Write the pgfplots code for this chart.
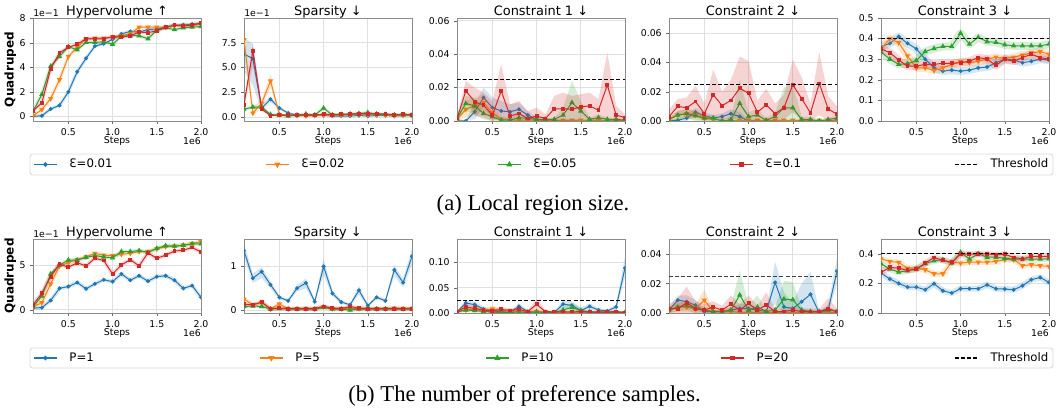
\documentclass[border=0pt]{standalone}
\usepackage{fontspec}
\setmainfont{DejaVu Sans}
\newfontfamily\capfont{Liberation Serif}
\usepackage{pgfplots}
\pgfplotsset{compat=1.18}
\usepackage{pgfplotstable}
\definecolor{cB}{HTML}{1F77B4}
\definecolor{cO}{HTML}{FF7F0E}
\definecolor{cG}{HTML}{2CA02C}
\definecolor{cR}{HTML}{D62728}

% ---------------- data (means) ----------------
\pgfplotstableread{
x b o g r
0.1 0.00 0.05 0.40 0.45
0.2 0.05 0.55 1.80 1.10
0.3 0.60 1.45 4.10 3.90
0.4 0.90 3.00 4.90 5.20
0.5 2.00 4.90 5.70 5.65
0.6 3.65 5.65 5.45 5.90
0.7 4.75 6.35 6.05 6.35
0.8 5.75 6.40 6.05 6.35
0.9 5.95 6.40 6.10 6.35
1.0 6.30 6.50 5.90 6.50
1.1 6.75 6.60 6.55 6.50
1.2 6.95 6.75 6.60 6.60
1.3 6.90 7.30 6.60 6.90
1.4 7.10 7.30 6.35 6.85
1.5 7.15 7.30 7.05 7.00
1.6 7.30 7.30 7.25 7.30
1.7 7.45 7.45 7.10 7.45
1.8 7.50 7.45 7.25 7.40
1.9 7.55 7.45 7.30 7.45
2.0 7.60 7.55 7.35 7.65
}\tAa

\pgfplotstableread{
x b o g r
0.1 6.35 7.80 0.80 1.25
0.2 5.90 0.40 1.00 6.70
0.3 0.90 1.40 1.00 0.80
0.4 1.80 3.65 0.25 0.15
0.5 0.90 0.25 0.20 0.20
0.6 0.40 0.20 0.10 0.20
0.7 0.20 0.15 0.20 0.20
0.8 0.15 0.10 0.30 0.20
0.9 0.15 0.15 0.20 0.20
1.0 0.15 0.20 0.90 0.30
1.1 0.10 0.20 0.20 0.25
1.2 0.10 0.20 0.25 0.30
1.3 0.10 0.25 0.30 0.30
1.4 0.15 0.30 0.35 0.35
1.5 0.10 0.25 0.45 0.35
1.6 0.15 0.25 0.30 0.35
1.7 0.15 0.20 0.25 0.30
1.8 0.10 0.15 0.20 0.25
1.9 0.15 0.20 0.20 0.30
2.0 0.15 0.15 0.20 0.25
}\tAb

\pgfplotstableread{
x b o g r
0.1 0.0000 0.0010 0.0015 0.0015
0.2 0.0000 0.0070 0.0105 0.0180
0.3 0.0055 0.0090 0.0090 0.0115
0.4 0.0140 0.0110 0.0045 0.0095
0.5 0.0080 0.0050 0.0025 0.0035
0.6 0.0060 0.0010 0.0005 0.0180
0.7 0.0055 0.0005 0.0005 0.0030
0.8 0.0070 0.0005 0.0020 0.0045
0.9 0.0035 0.0005 0.0015 0.0015
1.0 0.0010 0.0005 0.0010 0.0030
1.1 0.0000 0.0005 0.0010 0.0015
1.2 0.0000 0.0005 0.0010 0.0073
1.3 0.0000 0.0005 0.0035 0.0073
1.4 0.0000 0.0005 0.0110 0.0070
1.5 0.0000 0.0005 0.0060 0.0085
1.6 0.0000 0.0005 0.0010 0.0090
1.7 0.0000 0.0005 0.0020 0.0065
1.8 0.0000 0.0005 0.0010 0.0215
1.9 0.0000 0.0005 0.0010 0.0035
2.0 0.0000 0.0005 0.0005 0.0020
}\tAc

\pgfplotstableread{
x b o g r
0.1 0.0000 0.0010 0.0010 0.0030
0.2 0.0005 0.0040 0.0040 0.0100
0.3 0.0020 0.0050 0.0050 0.0090
0.4 0.0060 0.0040 0.0035 0.0133
0.5 0.0035 0.0020 0.0020 0.0050
0.6 0.0020 0.0010 0.0020 0.0180
0.7 0.0030 0.0005 0.0000 0.0105
0.8 0.0050 0.0005 0.0010 0.0140
0.9 0.0030 0.0005 0.0120 0.0224
1.0 0.0000 0.0005 0.0030 0.0188
1.1 0.0000 0.0005 0.0040 0.0060
1.2 0.0000 0.0005 0.0005 0.0110
1.3 0.0000 0.0005 0.0030 0.0050
1.4 0.0000 0.0005 0.0090 0.0090
1.5 0.0000 0.0005 0.0090 0.0247
1.6 0.0000 0.0005 0.0010 0.0153
1.7 0.0000 0.0005 0.0010 0.0055
1.8 0.0000 0.0005 0.0000 0.0256
1.9 0.0000 0.0005 0.0010 0.0082
2.0 0.0000 0.0005 0.0020 0.0046
}\tAd

\pgfplotstableread{
x b o g r
0.1 0.360 0.350 0.335 0.350
0.2 0.377 0.400 0.300 0.332
0.3 0.410 0.380 0.275 0.296
0.4 0.377 0.316 0.278 0.266
0.5 0.350 0.258 0.294 0.266
0.6 0.300 0.258 0.337 0.275
0.7 0.258 0.245 0.352 0.275
0.8 0.242 0.258 0.362 0.280
0.9 0.247 0.275 0.362 0.280
1.0 0.242 0.288 0.426 0.283
1.1 0.247 0.283 0.373 0.290
1.2 0.258 0.290 0.406 0.308
1.3 0.262 0.300 0.385 0.300
1.4 0.283 0.310 0.382 0.270
1.5 0.300 0.303 0.370 0.300
1.6 0.296 0.310 0.365 0.290
1.7 0.283 0.320 0.365 0.308
1.8 0.290 0.330 0.365 0.324
1.9 0.300 0.337 0.365 0.308
2.0 0.296 0.324 0.373 0.300
}\tAe

\pgfplotstableread{
x b o g r
0.1 0.20 0.35 0.35 0.55
0.2 0.25 0.80 1.55 1.85
0.3 1.05 2.90 4.00 3.70
0.4 2.40 4.90 5.00 5.10
0.5 2.60 5.25 5.55 4.75
0.6 3.05 5.60 5.55 5.25
0.7 2.35 5.90 5.85 4.90
0.8 2.90 6.30 6.05 5.75
0.9 3.35 6.10 5.90 5.50
1.0 3.15 6.05 5.80 4.00
1.1 4.00 6.20 6.50 5.00
1.2 3.30 6.30 6.50 5.60
1.3 3.80 6.50 6.60 4.90
1.4 3.20 6.50 6.40 6.35
1.5 3.70 6.80 6.85 5.75
1.6 3.80 7.05 7.15 6.10
1.7 3.30 7.10 7.10 6.55
1.8 2.40 7.20 7.20 6.65
1.9 2.70 7.40 7.35 6.95
2.0 1.40 7.60 7.35 6.45
}\tBa

\pgfplotstableread{
x b o g r
0.1 1.36 0.25 0.08 0.13
0.2 0.73 0.12 0.09 0.12
0.3 0.88 0.17 0.08 0.18
0.4 0.58 0.02 0.02 0.03
0.5 0.29 0.14 0.03 0.04
0.6 0.21 0.02 0.02 0.03
0.7 0.50 0.03 0.02 0.03
0.8 0.62 0.03 0.02 0.03
0.9 0.19 0.02 0.02 0.03
1.0 1.00 0.07 0.06 0.08
1.1 0.38 0.03 0.02 0.04
1.2 0.18 0.03 0.02 0.03
1.3 0.12 0.03 0.00 0.08
1.4 0.45 0.03 0.02 0.04
1.5 0.10 0.03 0.02 0.03
1.6 0.29 0.03 0.02 0.03
1.7 0.21 0.03 0.02 0.03
1.8 0.92 0.04 0.02 0.03
1.9 0.63 0.03 0.02 0.03
2.0 1.23 0.03 0.02 0.03
}\tBb

\pgfplotstableread{
x b o g r
0.1 0.0020 0.0030 0.0020 0.0030
0.2 0.0197 0.0060 0.0060 0.0120
0.3 0.0165 0.0070 0.0050 0.0090
0.4 0.0080 0.0050 0.0030 0.0060
0.5 0.0020 0.0080 0.0020 0.0040
0.6 0.0030 0.0050 0.0010 0.0070
0.7 0.0010 0.0040 0.0010 0.0050
0.8 0.0130 0.0020 0.0020 0.0070
0.9 0.0030 0.0020 0.0010 0.0030
1.0 0.0020 0.0030 0.0020 0.0170
1.1 0.0010 0.0020 0.0010 0.0030
1.2 0.0010 0.0010 0.0010 0.0020
1.3 0.0175 0.0010 0.0060 0.0020
1.4 0.0150 0.0010 0.0110 0.0020
1.5 0.0050 0.0010 0.0050 0.0030
1.6 0.0130 0.0010 0.0020 0.0020
1.7 0.0060 0.0010 0.0010 0.0020
1.8 0.0040 0.0010 0.0010 0.0020
1.9 0.0120 0.0010 0.0010 0.0030
2.0 0.0890 0.0010 0.0010 0.0010
}\tBc

\pgfplotstableread{
x b o g r
0.1 0.0020 0.0020 0.0020 0.0030
0.2 0.0088 0.0040 0.0040 0.0030
0.3 0.0077 0.0040 0.0050 0.0070
0.4 0.0053 0.0030 0.0030 0.0030
0.5 0.0010 0.0088 0.0020 0.0020
0.6 0.0010 0.0010 0.0010 0.0040
0.7 0.0010 0.0010 0.0010 0.0020
0.8 0.0020 0.0010 0.0020 0.0060
0.9 0.0030 0.0005 0.0122 0.0020
1.0 0.0030 0.0005 0.0020 0.0065
1.1 0.0020 0.0005 0.0040 0.0020
1.2 0.0010 0.0005 0.0010 0.0055
1.3 0.0208 0.0005 0.0020 0.0010
1.4 0.0042 0.0005 0.0095 0.0010
1.5 0.0030 0.0005 0.0090 0.0020
1.6 0.0077 0.0005 0.0020 0.0010
1.7 0.0127 0.0005 0.0010 0.0010
1.8 0.0000 0.0005 0.0010 0.0010
1.9 0.0020 0.0005 0.0020 0.0030
2.0 0.0285 0.0005 0.0010 0.0010
}\tBd

\pgfplotstableread{
x b o g r
0.1 0.270 0.366 0.333 0.274
0.2 0.230 0.348 0.297 0.308
0.3 0.200 0.342 0.276 0.303
0.4 0.175 0.303 0.285 0.288
0.5 0.175 0.303 0.297 0.297
0.6 0.157 0.292 0.333 0.337
0.7 0.198 0.265 0.353 0.375
0.8 0.150 0.265 0.360 0.355
0.9 0.135 0.344 0.337 0.342
1.0 0.164 0.337 0.410 0.398
1.1 0.164 0.344 0.364 0.398
1.2 0.164 0.344 0.400 0.398
1.3 0.190 0.344 0.377 0.400
1.4 0.164 0.348 0.377 0.393
1.5 0.162 0.360 0.370 0.398
1.6 0.157 0.360 0.364 0.375
1.7 0.184 0.320 0.364 0.366
1.8 0.225 0.326 0.364 0.382
1.9 0.240 0.320 0.364 0.382
2.0 0.207 0.315 0.366 0.382
}\tBe

% ---------------- styles ----------------
\newcommand{\tfont}{\fontsize{7}{8}\selectfont}
\pgfplotsset{
  sB/.style={color=cB, line width=0.75pt, mark=*, mark size=1.1pt, mark options={solid}},
  sO/.style={color=cO, line width=0.75pt, mark=triangle*, mark size=1.6pt, mark options={solid, rotate=180}},
  sG/.style={color=cG, line width=0.75pt, mark=triangle*, mark size=1.6pt, mark options={solid}},
  sR/.style={color=cR, line width=0.75pt, mark=square*, mark size=1.1pt, mark options={solid}},
  sT/.style={color=black, line width=0.8pt, dash pattern=on 3pt off 1.6pt},
  panel/.style={
    scale only axis, width=126pt,
    xmin=0.1, xmax=2.0,
    scaled x ticks=false, scaled y ticks=false,
    xtick={0.5,1.0,1.5,2.0}, xticklabels={0.5,1.0,1.5,2.0},
    grid=major, grid style={black!12, line width=0.6pt},
    axis line style={black!45}, tick style={black!60},
    tick align=outside, tick pos=left, major tick length=2pt,
    tick label style={font=\tfont},
    clip marker paths=true,
    xlabel={Steps},
    every axis x label/.style={at={(axis description cs:0.5,0)}, anchor=center, yshift=-15pt, font=\tfont},
    every axis y label/.style={at={(axis description cs:-0.135,0.5)}, rotate=90, anchor=center, font=\bfseries\fontsize{9}{10}\selectfont},
    every axis title/.style={at={(axis description cs:0.5,1)}, anchor=base, yshift=1.6pt, font=\fontsize{9.7}{11}\selectfont},
    extra description/.code={\node[anchor=east, inner sep=0pt, font=\tfont, yshift=-15pt] at (1,0) {1e6};},
  },
  rowA/.style={panel, height=77.25pt},
  rowB/.style={panel, height=55.5pt},
  offs/.style={extra description/.append code={\node[anchor=south west, inner sep=0pt, font=\tfont, yshift=1pt] at (0,1) {1e−1};}},
}
\newcommand{\ml}[3]{\addplot[#2] table[x=x,y=#3]{#1};}
\newcommand{\pb}[4]{\addplot[color=#3, no marks, line width=#4, opacity=0.18, line join=round, forget plot] table[x=x,y=#2]{#1};}
\newcommand{\band}[2]{\addplot[fill=#1, fill opacity=0.2, draw=none, no marks, forget plot] coordinates {#2};}
\newcommand{\legent}[4]{%
  \begin{axis}[hide axis, scale only axis, width=4pt, height=4pt, xmin=0, xmax=1, ymin=0, ymax=1,
    at={({#1*0.75pt},{-#2*0.75pt})}, anchor=south west,
    legend image post style={line width=1.1pt},
    legend style={at={(0,0)}, anchor=west, draw=none, fill=none, inner sep=0pt,
      font=\fontsize{8.8}{10}\selectfont, nodes={inner sep=1pt}}]
    \addplot[draw=none, no marks, forget plot] coordinates {(0,0) (1,1)};
    \addlegendimage{#3}\addlegendentry{\hspace{8pt}#4}
  \end{axis}}

\begin{document}
\begin{tikzpicture}
\path[use as bounding box] (0,0) rectangle (793.5pt,-309.75pt);

% ================= Row A =================
\begin{axis}[rowA, offs, at={(24.75pt,-90.75pt)}, anchor=south west,
  title={Hypervolume ↑}, ylabel={Quadruped},
  ymin=-0.38, ymax=8.05, ytick={0,2,4,6,8}, yticklabels={0,2,4,6,8}]
  \pb{\tAa}{b}{cB}{2.5pt}\ml{\tAa}{sB}{b}
  \pb{\tAa}{o}{cO}{2.5pt}\ml{\tAa}{sO}{o}
  \pb{\tAa}{g}{cG}{2.5pt}\ml{\tAa}{sG}{g}
  \pb{\tAa}{r}{cR}{2.5pt}\ml{\tAa}{sR}{r}
\end{axis}

\begin{axis}[rowA, offs, at={(183pt,-90.75pt)}, anchor=south west,
  title={Sparsity ↓},
  ymin=-0.4, ymax=10.0, ytick={0,2.5,5,7.5}, yticklabels={0.0,2.5,5.0,7.5}]
  \band{cB}{(0.1,8.00)(0.2,7.40)(0.3,1.30)(0.4,2.10)(0.5,1.10)(0.6,0.50)(0.7,0.25)(0.8,0.20)(0.9,0.20)(1.0,0.20)(1.1,0.15)(1.2,0.15)(1.3,0.15)(1.4,0.20)(1.5,0.15)(1.6,0.20)(1.7,0.20)(1.8,0.15)(1.9,0.20)(2.0,0.20)(2.0,0.10)(1.9,0.10)(1.8,0.05)(1.7,0.10)(1.6,0.10)(1.5,0.05)(1.4,0.10)(1.3,0.05)(1.2,0.05)(1.1,0.05)(1.0,0.10)(0.9,0.10)(0.8,0.10)(0.7,0.15)(0.6,0.30)(0.5,0.70)(0.4,1.50)(0.3,0.60)(0.2,3.20)(0.1,4.60)}
  \ml{\tAb}{sB}{b}
  \band{cO}{(0.1,8.60)(0.2,1.00)(0.3,1.80)(0.4,4.30)(0.5,0.35)(0.6,0.25)(0.7,0.20)(0.8,0.15)(0.9,0.20)(1.0,0.25)(1.1,0.25)(1.2,0.25)(1.3,0.30)(1.4,0.35)(1.5,0.30)(1.6,0.30)(1.7,0.25)(1.8,0.20)(1.9,0.25)(2.0,0.20)(2.0,0.10)(1.9,0.15)(1.8,0.10)(1.7,0.15)(1.6,0.20)(1.5,0.20)(1.4,0.25)(1.3,0.20)(1.2,0.15)(1.1,0.15)(1.0,0.15)(0.9,0.10)(0.8,0.05)(0.7,0.10)(0.6,0.15)(0.5,0.15)(0.4,3.00)(0.3,1.00)(0.2,0.20)(0.1,7.00)}
  \ml{\tAb}{sO}{o}
  \pb{\tAb}{g}{cG}{2.5pt}\ml{\tAb}{sG}{g}
  \band{cR}{(0.1,1.60)(0.2,7.40)(0.3,1.00)(0.4,0.25)(0.5,0.25)(0.6,0.25)(0.7,0.25)(0.8,0.25)(0.9,0.25)(1.0,0.40)(1.1,0.30)(1.2,0.35)(1.3,0.35)(1.4,0.40)(1.5,0.40)(1.6,0.40)(1.7,0.35)(1.8,0.30)(1.9,0.35)(2.0,0.30)(2.0,0.20)(1.9,0.25)(1.8,0.20)(1.7,0.25)(1.6,0.30)(1.5,0.30)(1.4,0.30)(1.3,0.25)(1.2,0.25)(1.1,0.20)(1.0,0.20)(0.9,0.15)(0.8,0.15)(0.7,0.15)(0.6,0.15)(0.5,0.15)(0.4,0.10)(0.3,0.60)(0.2,5.20)(0.1,0.90)}
  \ml{\tAb}{sR}{r}
\end{axis}

\begin{axis}[rowA, at={(342.75pt,-90.75pt)}, anchor=south west,
  title={Constraint 1 ↓},
  ymin=0, ymax=0.0616, ytick={0,0.02,0.04,0.06}, yticklabels={0.00,0.02,0.04,0.06}]
  \band{cB}{(0.1,0.0005)(0.2,0.001)(0.3,0.010)(0.4,0.020)(0.5,0.014)(0.6,0.012)(0.7,0.010)(0.8,0.011)(0.9,0.006)(1.0,0.002)(1.1,0.0005)(2.0,0.0005)(2.0,0)(1.0,0)(0.9,0.001)(0.8,0.003)(0.7,0.001)(0.6,0)(0.5,0.002)(0.4,0.008)(0.3,0.001)(0.1,0)}
  \ml{\tAc}{sB}{b}
  \band{cO}{(0.1,0.002)(0.2,0.012)(0.3,0.014)(0.4,0.016)(0.5,0.009)(0.6,0.003)(0.7,0.001)(2.0,0.001)(2.0,0)(0.6,0)(0.5,0.001)(0.4,0.006)(0.3,0.004)(0.2,0.002)(0.1,0)}
  \ml{\tAc}{sO}{o}
  \band{cG}{(0.1,0.003)(0.2,0.015)(0.3,0.014)(0.4,0.008)(0.5,0.005)(0.6,0.002)(0.7,0.002)(0.8,0.004)(0.9,0.003)(1.0,0.002)(1.1,0.002)(1.2,0.002)(1.3,0.008)(1.4,0.024)(1.5,0.012)(1.6,0.002)(1.7,0.004)(1.8,0.002)(1.9,0.002)(2.0,0.001)(2.0,0)(0.5,0)(0.4,0.001)(0.3,0.004)(0.2,0.006)(0.1,0)}
  \ml{\tAc}{sG}{g}
  \band{cR}{(0.1,0.003)(0.2,0.024)(0.3,0.020)(0.4,0.017)(0.5,0.012)(0.6,0.034)(0.7,0.010)(0.8,0.012)(0.9,0.006)(1.0,0.008)(1.1,0.004)(1.2,0.015)(1.3,0.017)(1.4,0.015)(1.5,0.016)(1.6,0.017)(1.7,0.013)(1.8,0.041)(1.9,0.009)(2.0,0.004)(2.0,0)(1.9,0)(1.8,0.002)(1.7,0)(1.6,0.001)(1.5,0.001)(1.4,0)(0.7,0)(0.6,0.002)(0.5,0)(0.4,0.002)(0.3,0.003)(0.2,0.012)(0.1,0)}
  \ml{\tAc}{sR}{r}
  \addplot[sT] coordinates {(0.1,0.025) (2.0,0.025)};
\end{axis}

\begin{axis}[rowA, at={(501.75pt,-90.75pt)}, anchor=south west,
  title={Constraint 2 ↓},
  ymin=0, ymax=0.0703, ytick={0,0.02,0.04,0.06}, yticklabels={0.00,0.02,0.04,0.06}]
  \band{cB}{(0.1,0.0005)(0.2,0.002)(0.3,0.004)(0.4,0.009)(0.5,0.006)(0.6,0.004)(0.7,0.005)(0.8,0.008)(0.9,0.006)(1.0,0.001)(1.1,0.0005)(2.0,0.0005)(2.0,0)(0.9,0)(0.8,0.002)(0.7,0.001)(0.6,0)(0.5,0.001)(0.4,0.003)(0.3,0)(0.1,0)}
  \ml{\tAd}{sB}{b}
  \band{cO}{(0.1,0.002)(0.2,0.007)(0.3,0.008)(0.4,0.007)(0.5,0.004)(0.6,0.002)(0.7,0.001)(2.0,0.001)(2.0,0)(0.5,0)(0.4,0.001)(0.3,0.002)(0.2,0.001)(0.1,0)}
  \ml{\tAd}{sO}{o}
  \band{cG}{(0.1,0.002)(0.2,0.007)(0.3,0.008)(0.4,0.007)(0.5,0.004)(0.6,0.004)(0.7,0.001)(0.8,0.003)(0.9,0.028)(1.0,0.006)(1.1,0.008)(1.2,0.002)(1.3,0.006)(1.4,0.023)(1.5,0.025)(1.6,0.003)(1.7,0.003)(1.8,0.001)(1.9,0.002)(2.0,0.004)(2.0,0)(0.4,0)(0.3,0.002)(0.2,0.001)(0.1,0)}
  \ml{\tAd}{sG}{g}
  \band{cR}{(0.1,0.008)(0.2,0.015)(0.3,0.016)(0.4,0.024)(0.5,0.012)(0.6,0.035)(0.7,0.020)(0.8,0.028)(0.9,0.044)(1.0,0.041)(1.1,0.014)(1.2,0.022)(1.3,0.012)(1.4,0.018)(1.5,0.042)(1.6,0.030)(1.7,0.012)(1.8,0.047)(1.9,0.017)(2.0,0.010)(2.0,0)(1.9,0)(1.8,0.004)(1.7,0)(1.6,0.001)(1.5,0.006)(1.4,0.001)(1.3,0)(1.0,0)(0.9,0.002)(0.8,0.001)(0.7,0.002)(0.6,0.003)(0.5,0)(0.4,0.003)(0.3,0.002)(0.2,0.005)(0.1,0)}
  \ml{\tAd}{sR}{r}
  \addplot[sT] coordinates {(0.1,0.025) (2.0,0.025)};
\end{axis}

\begin{axis}[rowA, at={(660.75pt,-90.75pt)}, anchor=south west,
  title={Constraint 3 ↓},
  ymin=0, ymax=0.5, ytick={0,0.1,0.2,0.3,0.4,0.5}, yticklabels={0.0,0.1,0.2,0.3,0.4,0.5}]
  \pb{\tAe}{b}{cB}{6pt}\ml{\tAe}{sB}{b}
  \pb{\tAe}{o}{cO}{6pt}\ml{\tAe}{sO}{o}
  \pb{\tAe}{g}{cG}{6pt}\ml{\tAe}{sG}{g}
  \pb{\tAe}{r}{cR}{6pt}\ml{\tAe}{sR}{r}
  \addplot[sT] coordinates {(0.1,0.4) (2.0,0.4)};
\end{axis}

% ================= Row B =================
\begin{axis}[rowB, offs, at={(24.75pt,-234.75pt)}, anchor=south west,
  title={Hypervolume ↑}, ylabel={Quadruped},
  ymin=-0.35, ymax=7.9, ytick={0,5}, yticklabels={0,5}]
  \pb{\tBa}{b}{cB}{3pt}\ml{\tBa}{sB}{b}
  \pb{\tBa}{o}{cO}{3pt}\ml{\tBa}{sO}{o}
  \pb{\tBa}{g}{cG}{3pt}\ml{\tBa}{sG}{g}
  \pb{\tBa}{r}{cR}{3pt}\ml{\tBa}{sR}{r}
\end{axis}

\begin{axis}[rowB, at={(183pt,-234.75pt)}, anchor=south west,
  title={Sparsity ↓},
  ymin=-0.07, ymax=1.63, ytick={0,1}, yticklabels={0,1}]
  \band{cB}{(0.1,1.52)(0.2,0.84)(0.3,0.98)(0.4,0.66)(0.5,0.34)(0.6,0.25)(0.7,0.58)(0.8,0.72)(0.9,0.23)(1.0,1.18)(1.1,0.44)(1.2,0.22)(1.3,0.15)(1.4,0.55)(1.5,0.13)(1.6,0.34)(1.7,0.25)(1.8,1.02)(1.9,0.72)(2.0,1.42)(2.0,1.05)(1.9,0.52)(1.8,0.78)(1.7,0.17)(1.6,0.25)(1.5,0.07)(1.4,0.35)(1.3,0.09)(1.2,0.14)(1.1,0.32)(1.0,0.80)(0.9,0.15)(0.8,0.50)(0.7,0.42)(0.6,0.18)(0.5,0.24)(0.4,0.50)(0.3,0.73)(0.2,0.62)(0.1,1.20)}
  \ml{\tBb}{sB}{b}
  \pb{\tBb}{o}{cO}{3pt}\ml{\tBb}{sO}{o}
  \pb{\tBb}{g}{cG}{3pt}\ml{\tBb}{sG}{g}
  \pb{\tBb}{r}{cR}{3pt}\ml{\tBb}{sR}{r}
\end{axis}

\begin{axis}[rowB, at={(342.75pt,-234.75pt)}, anchor=south west,
  title={Constraint 1 ↓},
  ymin=0, ymax=0.1465, ytick={0,0.05,0.1}, yticklabels={0.00,0.05,0.10}]
  \band{cB}{(0.1,0.004)(0.2,0.025)(0.3,0.022)(0.4,0.013)(0.5,0.005)(0.6,0.007)(0.7,0.003)(0.8,0.019)(0.9,0.006)(1.0,0.005)(1.1,0.003)(1.2,0.003)(1.3,0.025)(1.4,0.023)(1.5,0.010)(1.6,0.019)(1.7,0.010)(1.8,0.007)(1.9,0.017)(2.0,0.112)(2.0,0.070)(1.9,0.007)(1.8,0.001)(1.7,0.002)(1.6,0.007)(1.5,0)(1.4,0.007)(1.3,0.010)(1.2,0)(0.9,0)(0.8,0.007)(0.7,0)(0.5,0)(0.4,0.003)(0.3,0.011)(0.2,0.014)(0.1,0)}
  \ml{\tBc}{sB}{b}
  \band{cO}{(0.1,0.006)(0.2,0.010)(0.3,0.011)(0.4,0.010)(0.5,0.014)(0.6,0.009)(0.7,0.008)(0.8,0.004)(0.9,0.004)(1.0,0.006)(1.1,0.004)(1.2,0.002)(2.0,0.002)(2.0,0)(0.7,0)(0.6,0.001)(0.5,0.002)(0.4,0.001)(0.3,0.003)(0.2,0.002)(0.1,0)}
  \ml{\tBc}{sO}{o}
  \band{cG}{(0.1,0.004)(0.2,0.010)(0.3,0.009)(0.4,0.006)(0.5,0.004)(0.6,0.002)(0.7,0.002)(0.8,0.004)(0.9,0.002)(1.0,0.004)(1.1,0.002)(1.2,0.002)(1.3,0.012)(1.4,0.020)(1.5,0.010)(1.6,0.004)(1.7,0.002)(2.0,0.002)(2.0,0)(1.5,0)(1.4,0.003)(1.3,0.001)(1.2,0)(0.4,0)(0.3,0.001)(0.2,0.002)(0.1,0)}
  \ml{\tBc}{sG}{g}
  \band{cR}{(0.1,0.006)(0.2,0.018)(0.3,0.014)(0.4,0.010)(0.5,0.008)(0.6,0.012)(0.7,0.009)(0.8,0.012)(0.9,0.006)(1.0,0.028)(1.1,0.006)(1.2,0.004)(1.3,0.004)(1.4,0.004)(1.5,0.006)(1.6,0.004)(1.7,0.004)(1.8,0.004)(1.9,0.006)(2.0,0.002)(2.0,0)(1.1,0)(1.0,0.006)(0.9,0)(0.8,0.002)(0.7,0.001)(0.6,0.002)(0.5,0)(0.4,0.002)(0.3,0.004)(0.2,0.006)(0.1,0)}
  \ml{\tBc}{sR}{r}
  \addplot[sT] coordinates {(0.1,0.025) (2.0,0.025)};
\end{axis}

\begin{axis}[rowB, at={(501.75pt,-234.75pt)}, anchor=south west,
  title={Constraint 2 ↓},
  ymin=0, ymax=0.0504, ytick={0,0.02,0.04}, yticklabels={0.00,0.02,0.04}]
  \band{cB}{(0.1,0.004)(0.2,0.012)(0.3,0.012)(0.4,0.009)(0.5,0.002)(0.6,0.002)(0.7,0.002)(0.8,0.004)(0.9,0.006)(1.0,0.006)(1.1,0.004)(1.2,0.002)(1.3,0.035)(1.4,0.014)(1.5,0.007)(1.6,0.020)(1.7,0.028)(1.8,0.001)(1.9,0.006)(2.0,0.037)(2.0,0.020)(1.9,0)(1.4,0)(1.3,0.006)(1.2,0)(0.5,0)(0.4,0.002)(0.3,0.003)(0.2,0.005)(0.1,0)}
  \ml{\tBd}{sB}{b}
  \band{cO}{(0.1,0.004)(0.2,0.007)(0.3,0.008)(0.4,0.006)(0.5,0.016)(0.6,0.002)(0.8,0.002)(0.9,0.001)(2.0,0.001)(2.0,0)(0.6,0)(0.5,0.002)(0.4,0)(0.3,0.001)(0.2,0.001)(0.1,0)}
  \ml{\tBd}{sO}{o}
  \band{cG}{(0.1,0.004)(0.2,0.007)(0.3,0.008)(0.4,0.006)(0.5,0.004)(0.6,0.002)(0.7,0.002)(0.8,0.004)(0.9,0.029)(1.0,0.005)(1.1,0.012)(1.2,0.002)(1.3,0.004)(1.4,0.022)(1.5,0.021)(1.6,0.004)(1.7,0.002)(1.8,0.002)(1.9,0.004)(2.0,0.002)(2.0,0)(0.4,0)(0.3,0.002)(0.2,0.001)(0.1,0)}
  \ml{\tBd}{sG}{g}
  \band{cR}{(0.1,0.006)(0.2,0.010)(0.3,0.018)(0.4,0.008)(0.5,0.006)(0.6,0.008)(0.7,0.005)(0.8,0.012)(0.9,0.006)(1.0,0.012)(1.1,0.005)(1.2,0.014)(1.3,0.003)(1.4,0.003)(1.5,0.005)(1.6,0.003)(1.7,0.003)(1.8,0.003)(1.9,0.010)(2.0,0.003)(2.0,0)(0.1,0)}
  \ml{\tBd}{sR}{r}
  \addplot[sT, color=black!75] coordinates {(0.1,0.025) (2.0,0.025)};
\end{axis}

\begin{axis}[rowB, at={(660.75pt,-234.75pt)}, anchor=south west,
  title={Constraint 3 ↓},
  ymin=0, ymax=0.5, ytick={0,0.2,0.4}, yticklabels={0.0,0.2,0.4}]
  \pb{\tBe}{b}{cB}{4.5pt}\ml{\tBe}{sB}{b}
  \pb{\tBe}{o}{cO}{4.5pt}\ml{\tBe}{sO}{o}
  \pb{\tBe}{g}{cG}{4.5pt}\ml{\tBe}{sG}{g}
  \pb{\tBe}{r}{cR}{4.5pt}\ml{\tBe}{sR}{r}
  \addplot[sT] coordinates {(0.1,0.4) (2.0,0.4)};
\end{axis}

% ================= Legends =================
\draw[black!15, line width=0.6pt, rounded corners=2pt, fill=white] (22.5pt,-115.5pt) rectangle (789.75pt,-131.25pt);
\draw[black!15, line width=0.6pt, rounded corners=2pt, fill=white] (22.5pt,-261pt) rectangle (789.75pt,-276pt);

\legent{33}{164.5}{sB}{Ɛ=0.01}
\legent{265}{164.5}{sO}{Ɛ=0.02}
\legent{497}{164.5}{sG}{Ɛ=0.05}
\legent{729}{164.5}{sR}{Ɛ=0.1}
\legent{954}{164.5}{sT}{Threshold}

\legent{33}{358}{sB}{P=1}
\legent{259}{358}{sO}{P=5}
\legent{485}{358}{sG}{P=10}
\legent{720}{358}{sR}{P=20}
\legent{954}{358}{sT}{Threshold}

% ================= Captions =================
\node[font=\capfont\fontsize{17}{19}\selectfont] at (399.75pt,-153.75pt) {(a) Local region size.};
\node[font=\capfont\fontsize{17}{19}\selectfont] at (393.4pt,-297pt) {(b) The number of preference samples.};
\end{tikzpicture}
\end{document}
